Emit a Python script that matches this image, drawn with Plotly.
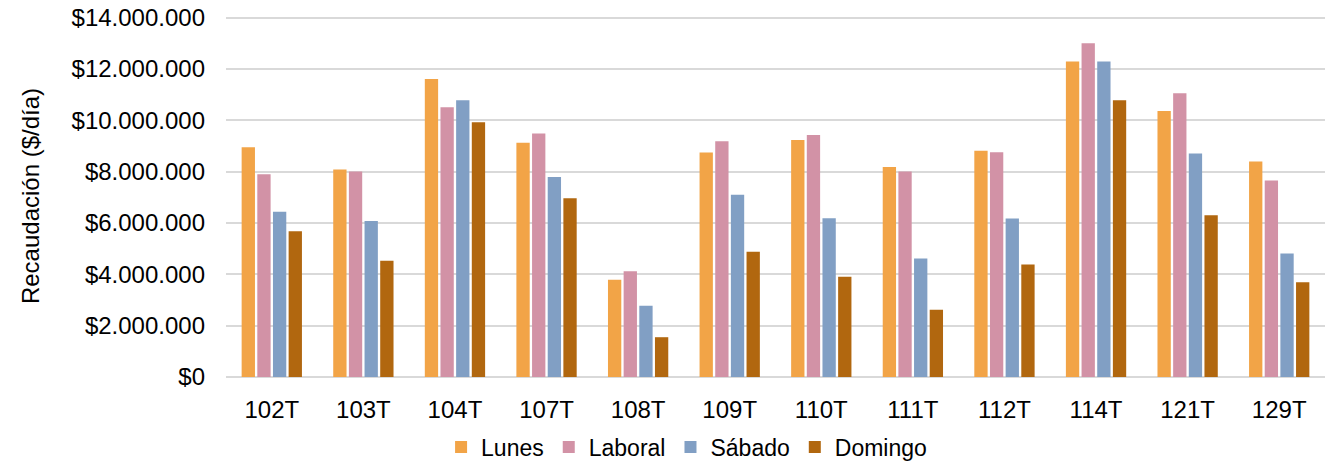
import plotly.graph_objects as go

categories = ["102T", "103T", "104T", "107T", "108T", "109T", "110T", "111T", "112T", "114T", "121T", "129T"]
lunes   = [8950000, 8080000, 11610000, 9120000, 3790000, 8740000, 9230000, 8180000, 8810000, 12290000, 10360000, 8390000]
laboral = [7900000, 8000000, 10510000, 9480000, 4120000, 9180000, 9430000, 8000000, 8750000, 13000000, 11050000, 7650000]
sabado  = [6440000, 6080000, 10780000, 7790000, 2780000, 7100000, 6180000, 4620000, 6170000, 12290000, 8710000, 4810000]
domingo = [5680000, 4530000, 9920000, 6960000, 1550000, 4880000, 3900000, 2620000, 4380000, 10780000, 6300000, 3690000]

series = [
    ("Lunes", lunes, "#F2A447"),
    ("Laboral", laboral, "#D292A6"),
    ("Sábado", sabado, "#819FC4"),
    ("Domingo", domingo, "#B1670F"),
]

tick_vals = [0, 2000000, 4000000, 6000000, 8000000, 10000000, 12000000, 14000000]
tick_text = ["$0", "$2.000.000", "$4.000.000", "$6.000.000", "$8.000.000", "$10.000.000", "$12.000.000", "$14.000.000"]

fig = go.Figure()
for name, vals, color in series:
    fig.add_trace(go.Bar(x=categories, y=vals, name=name,
                         marker=dict(color=color, line=dict(width=0))))

font_family = "Liberation Sans, Arial, sans-serif"
FS = 24
fig.update_layout(
    width=1328, height=461,
    margin=dict(l=226, r=3, t=15.4, b=84, autoexpand=False),
    paper_bgcolor="white", plot_bgcolor="white",
    barmode="group", bargap=0.316, bargroupgap=0.15,
    font=dict(family=font_family, size=FS, color="#000000"),
    showlegend=True,
    legend=dict(orientation="h", xref="container", yref="container",
                x=0.517, xanchor="center", y=0.0304, yanchor="middle",
                font=dict(size=23), traceorder="normal"),
    xaxis=dict(showgrid=False, ticks="", showline=False,
               tickfont=dict(size=FS), ticklabelstandoff=16),
    yaxis=dict(range=[0, 14100000], tickvals=tick_vals, ticktext=tick_text,
               showgrid=True, gridcolor="#D9D9D9", gridwidth=1.5,
               zeroline=True, zerolinecolor="#D9D9D9", zerolinewidth=1.5,
               showline=False, ticks="", ticklabelstandoff=20,
               ticklabeloverflow="allow",
               tickfont=dict(size=FS),
               title=dict(text="Recaudación ($/día)", font=dict(size=FS), standoff=25)),
)

fig.write_html("out.html", config={"displayModeBar": False},
               post_script="document.body.style.margin='0';")
